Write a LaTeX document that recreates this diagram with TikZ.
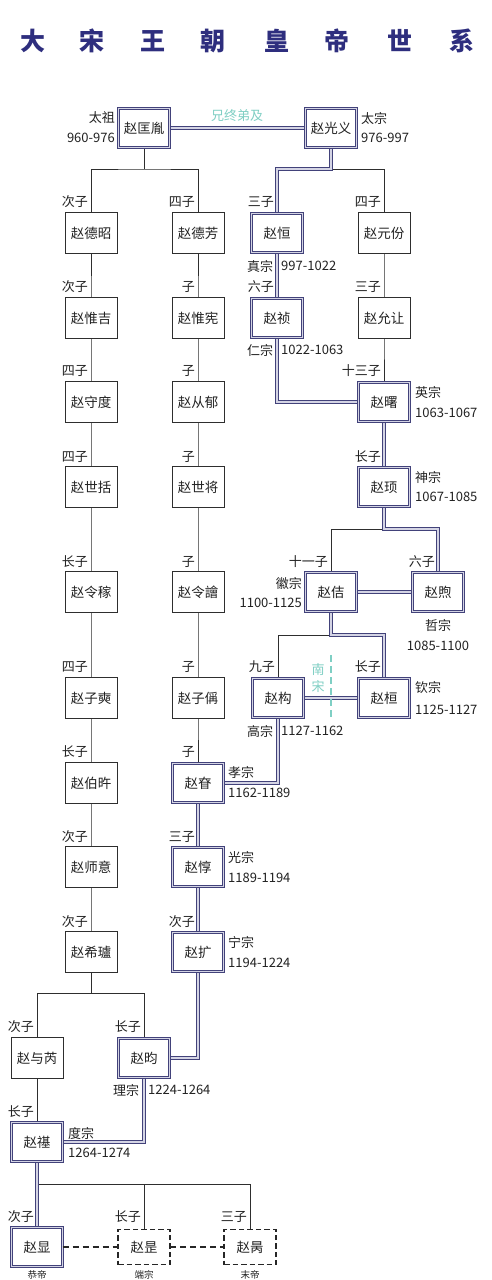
\documentclass[tikz,border=0pt]{standalone}
\usepackage{fontspec}
\newfontfamily\cjk{Noto Sans CJK SC}
\usetikzlibrary{backgrounds}
\definecolor{navy}{HTML}{42427A}
\definecolor{dbl}{HTML}{D4D4E4}
\definecolor{linec}{HTML}{2E2E2E}
\definecolor{textc}{HTML}{222222}
\definecolor{teal}{HTML}{7FCFC4}
\definecolor{titlec}{HTML}{2E2E7E}
\tikzset{
  boxfont/.style={font=\cjk\fontsize{13.5}{14}\selectfont},
  plain/.style={boxfont, draw=linec, line width=0.9pt, fill=white, minimum width=52pt, minimum height=41pt, inner sep=0pt, outer sep=0pt, text=textc},
  emp/.style={boxfont, draw=navy, double=dbl, line width=1.4pt, double distance=1.1pt, fill=white, minimum width=51pt, minimum height=39pt, inner sep=0pt, outer sep=0pt, text=textc},
  dbox/.style={boxfont, draw=black!85, line width=1.8pt, dash pattern=on 5.5pt off 3pt, fill=white, minimum width=52pt, minimum height=35pt, inner sep=0pt, outer sep=0pt, text=textc},
  tl/.style={draw=linec, line width=0.9pt},
  tk/.style={draw=navy, double=dbl, line width=1.4pt, double distance=1.1pt},
  dl/.style={draw=black!85, line width=1.8pt, dash pattern=on 6pt off 4pt},
  lbl/.style={font=\cjk\fontsize{13}{13}\selectfont, inner sep=0pt, text=textc},
  ttl/.style={font=\cjk\bfseries\fontsize{25}{25}\selectfont, inner sep=0pt, text=titlec},
}
\begin{document}
\begin{tikzpicture}[x=1pt,y=-1pt]
\useasboundingbox (0,0) rectangle (492,1280);
\clip (0,0) rectangle (492,1280);

% title
\foreach \c/\x [count=\i] in {大/33,宋/92,王/153,朝/213,皇/277,帝/337,世/400,系/462}
  \node[ttl] (t\i) at (\x,41) {\c};

% row 0
\node[emp] (taizu) at (144,128) {赵匡胤};
\node[emp] (taizong) at (331,128) {赵光义};
% column A
\node[plain] (dezhao) at (91,233) {赵德昭};
\node[plain] (weiji) at (91,318) {赵惟吉};
\node[plain] (shoudu) at (91,402) {赵守度};
\node[plain] (shikuo) at (91,487) {赵世括};
\node[plain] (lingjia) at (91,592) {赵令稼};
\node[plain] (zishi) at (91,698) {赵子奭};
\node[plain] (bowu) at (91,783) {赵伯旿};
\node[plain] (shiyi) at (91,867) {赵师意};
\node[plain] (xilu) at (91,952) {赵希瓐};
% column B
\node[plain] (defang) at (198,233) {赵德芳};
\node[plain] (weixian) at (198,318) {赵惟宪};
\node[plain] (congyu) at (198,402) {赵从郁};
\node[plain] (shijiang) at (198,487) {赵世将};
\node[plain] (linghui) at (198,592) {赵令譮};
\node[plain] (zicheng) at (198,698) {赵子偁};
\node[emp] (xiaozong) at (198,783) {赵眘};
\node[emp] (guangzong) at (198,867) {赵惇};
\node[emp] (ningzong) at (198,952) {赵扩};
% column C / D / E
\node[emp] (zhenzong) at (277,233) {赵恒};
\node[emp] (renzong) at (277,318) {赵祯};
\node[plain] (yuanfen) at (384,233) {赵元份};
\node[plain] (yunrang) at (384,318) {赵允让};
\node[emp] (yingzong) at (384,402) {赵曙};
\node[emp] (shenzong) at (384,487) {赵顼};
\node[emp] (huizong) at (331,592) {赵佶};
\node[emp] (zhezong) at (438,592) {赵煦};
\node[emp] (gaozong) at (278,698) {赵构};
\node[emp] (qinzong) at (384,698) {赵桓};
% bottom
\node[plain] (yurui) at (37,1058) {赵与芮};
\node[emp] (lizong) at (144,1058) {赵昀};
\node[emp] (duzong) at (37,1142) {赵禥};
\node[emp] (gongdi) at (37,1247) {赵显};
\node[dbox] (duanzong) at (144,1247) {赵昰};
\node[dbox] (modi) at (250,1247) {赵昺};

% junction coordinates
\coordinate (j1) at (144,169);
\coordinate (j2) at (331,169);
\coordinate (j4) at (384,529);
\coordinate (j5) at (331,635);
\coordinate (j3) at (91,993);
\coordinate (j6) at (37,1184);

\begin{scope}[on background layer]
\fill[white] (0,0) rectangle (492,1280);
% thin connectors
\draw[tl] (taizu.center) -- (j1);
\draw[tl] (dezhao.center) |- (j1) -| (defang.center);
\draw[tl] (j2) -| (yuanfen.center);
\draw[tl] (dezhao.center) -- (weiji.center) -- (shoudu.center) -- (shikuo.center) -- (lingjia.center) -- (zishi.center) -- (bowu.center) -- (shiyi.center) -- (xilu.center) -- (j3);
\draw[tl] (yurui.center) |- (j3) -| (lizong.center);
\draw[tl] (yurui.center) -- (duzong.center);
\draw[tl] (defang.center) -- (weixian.center) -- (congyu.center) -- (shijiang.center) -- (linghui.center) -- (zicheng.center) -- (xiaozong.center);
\draw[tl] (yuanfen.center) -- (yunrang.center) -- (yingzong.center);
\draw[tl] (j4) -| (huizong.center);
\draw[tl] (j5) -| (gaozong.center);
\draw[tl] (j6) -| (modi.center);
\draw[tl] (duanzong.center) -- (duanzong.center |- j6);
% thick connectors
\draw[tk] (taizu.center) -- (taizong.center);
\draw[tk] (taizong.center) -- (j2) -| (zhenzong.center);
\draw[tk] (zhenzong.center) -- (renzong.center) |- (yingzong.center);
\draw[tk] (yingzong.center) -- (shenzong.center) -- (j4) -| (zhezong.center);
\draw[tk] (huizong.center) -- (zhezong.center);
\draw[tk] (huizong.center) -- (j5) -| (qinzong.center);
\draw[tk] (gaozong.center) -- (qinzong.center);
\draw[tk] (gaozong.center) |- (xiaozong.center);
\draw[tk] (xiaozong.center) -- (guangzong.center) -- (ningzong.center) |- (lizong.center);
\draw[tk] (lizong.center) |- (duzong.center);
\draw[tk] (duzong.center) -- (gongdi.center);
\end{scope}

% dashed connectors
\draw[dl] (gongdi.east) -- (duanzong.west);
\draw[dl] (duanzong.east) -- (modi.west);

% annotations
\node[font=\cjk\fontsize{13}{13}\selectfont, text=teal, inner sep=0pt] (xzdj) at (237,116) {兄终弟及};
\coordinate (ns1) at (331,655);
\coordinate (ns2) at (331,717);
\draw[draw=teal, line width=1.5pt, dash pattern=on 7pt off 4pt] (ns1) -- (ns2);
\node[font=\cjk\fontsize{13}{13}\selectfont, text=teal, inner sep=0pt] (nan) at (318,670) {南};
\node[font=\cjk\fontsize{13}{13}\selectfont, text=teal, inner sep=0pt] (song) at (318,687) {宋};

% rank labels
\foreach \x/\y/\t [count=\i] in {
  88/202/次子, 195/202/四子, 274/202/三子, 381/202/四子,
  88/287/次子, 195/287/子, 274/287/六子, 381/287/三子,
  88/371/四子, 195/371/子, 381/371/十三子,
  88/457/四子, 195/457/子, 381/457/长子,
  88/562/长子, 195/562/子, 328/562/十一子, 435/562/六子,
  88/667/四子, 195/667/子, 275/667/九子, 381/667/长子,
  88/752/长子, 195/752/子,
  88/837/次子, 195/837/三子,
  88/922/次子, 195/922/次子,
  34/1027/次子, 141/1027/长子,
  34/1112/长子,
  34/1217/次子, 141/1217/长子, 247/1217/三子}
  \node[lbl, anchor=east] (r\i) at (\x,\y) {\t};

% emperor labels
\foreach \x/\y/\t/\a [count=\i] in {
  115/118/太祖/east, 115/138/960-976/east,
  361/118/太宗/west, 361/138/976-997/west,
  247/266/真宗/west, 281/266/997-1022/west,
  247/350/仁宗/west, 281/350/1022-1063/west,
  415/392/英宗/west, 415/413/1063-1067/west,
  415/477/神宗/west, 415/497/1067-1085/west,
  302/583/徽宗/east, 302/603/1100-1125/east,
  438/625/哲宗/center, 438/646/1085-1100/center,
  415/687/钦宗/west, 415/710/1125-1127/west,
  247/731/高宗/west, 281/731/1127-1162/west,
  228/772/孝宗/west, 228/793/1162-1189/west,
  228/857/光宗/west, 228/878/1189-1194/west,
  228/942/宁宗/west, 228/963/1194-1224/west,
  113/1090/理宗/west, 148/1090/1224-1264/west,
  68/1133/度宗/west, 68/1153/1264-1274/west}
  \node[lbl, anchor=\a] (e\i) at (\x,\y) {\t};
\foreach \x/\t [count=\i] in {37/恭帝, 144/端宗, 250/末帝}
  \node[font=\cjk\fontsize{9.5}{9.5}\selectfont, inner sep=0pt, text=textc] (b\i) at (\x,1274.5) {\t};
\end{tikzpicture}
\end{document}
